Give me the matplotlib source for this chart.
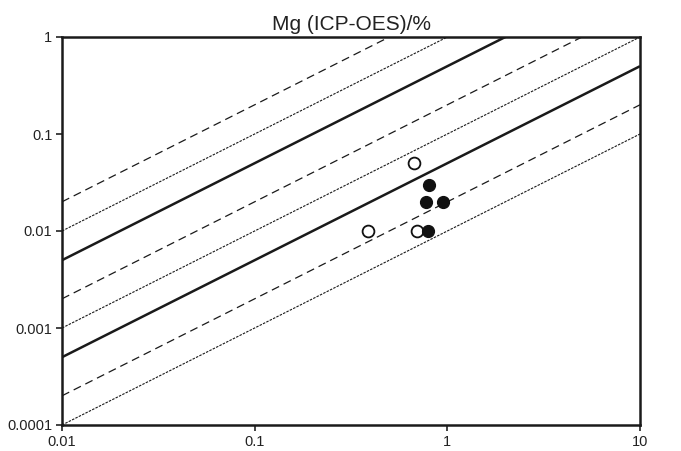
import matplotlib
matplotlib.use("Agg")
import matplotlib.pyplot as plt
import numpy as np

plt.rcParams['font.family'] = ['Liberation Sans', 'DejaVu Sans']
plt.rcParams['lines.scale_dashes'] = False

# Reference lines y = k * x
solid_k = [0.5, 0.05]
dashed_k = [2, 0.2, 0.02]
dotted_k = [1, 0.1, 0.01]

# Data points
open_x = [0.673, 0.389, 0.693]
open_y = [0.05, 0.01, 0.01]
filled_x = [0.805, 0.774, 0.953, 0.796]
filled_y = [0.03, 0.02, 0.02, 0.01]

x_ticks = [0.01, 0.1, 1, 10]
x_labels = ["0.01", "0.1", "1", "10"]
y_ticks = [0.0001, 0.001, 0.01, 0.1, 1]
y_labels = ["0.0001", "0.001", "0.01", "0.1", "1"]

fig = plt.figure(figsize=(6.81, 4.51), dpi=100)
ax = fig.add_axes([62/681, 26/451, 578/681, 388/451])

xs = np.array([0.01, 10.0])
for k in solid_k:
    ax.plot(xs, k * xs, color='#1a1a1a', lw=1.8, solid_capstyle='butt')
for k in dashed_k:
    ax.plot(xs, k * xs, color='#1a1a1a', lw=0.9, dashes=(5.8, 3.6))
for k in dotted_k:
    ax.plot(xs, k * xs, color='#1a1a1a', lw=0.8, dashes=(1.8, 0.9))

ax.plot(open_x, open_y, 'o', ms=8.5, mfc='white', mec='#111111', mew=1.3, zorder=5)
ax.plot(filled_x, filled_y, 'o', ms=8.5, mfc='#111111', mec='#111111', mew=1.0, zorder=5)

ax.set_xscale('log')
ax.set_yscale('log')
ax.set_xlim(0.01, 10)
ax.set_ylim(0.0001, 1)
ax.set_xticks(x_ticks)
ax.set_xticklabels(x_labels)
ax.set_yticks(y_ticks)
ax.set_yticklabels(y_labels)
ax.minorticks_off()
ax.tick_params(axis='both', which='major', direction='out', length=4, width=1.2,
               labelsize=10.5, colors='#222222')
ax.tick_params(axis='x', pad=3)
ax.tick_params(axis='y', pad=3)
for s in ax.spines.values():
    s.set_linewidth(1.8)
    s.set_color('#1a1a1a')

ax.set_title("Mg (ICP-OES)/%", fontsize=15, color='#222222', pad=5)

fig.savefig("out.png", dpi=100)
